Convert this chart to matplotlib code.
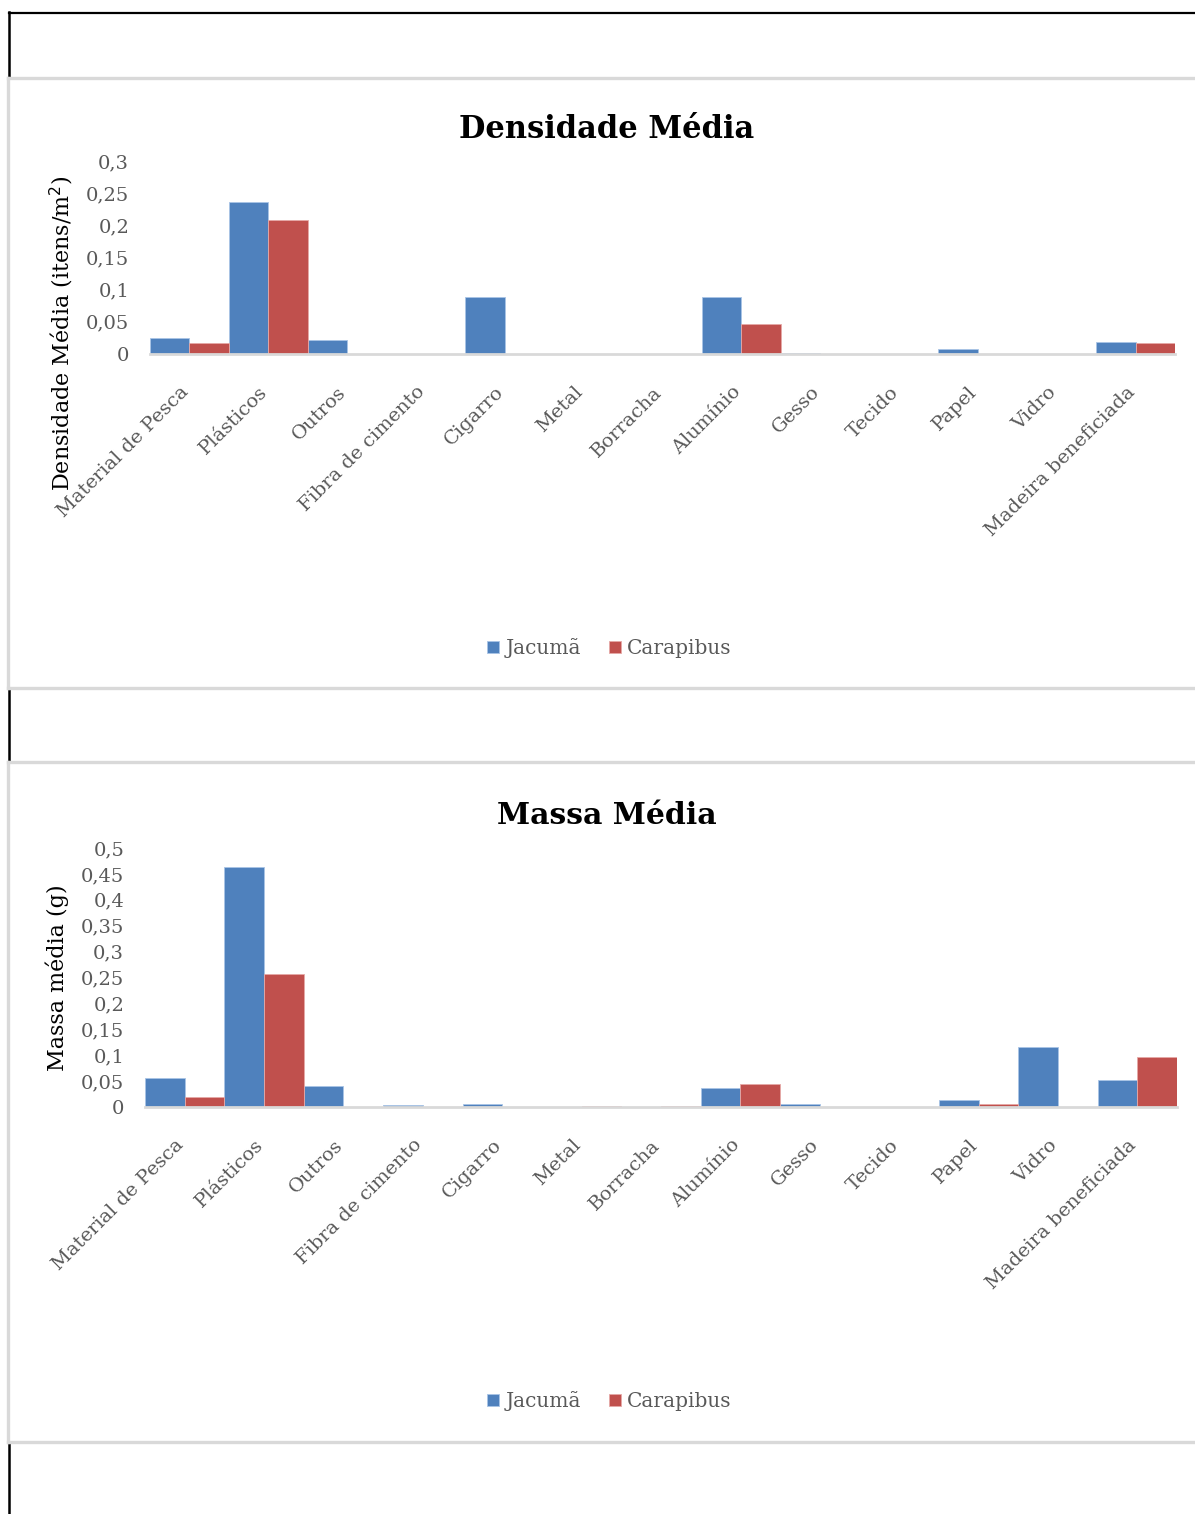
import matplotlib.pyplot as plt
import numpy as np

categorias = ["Material de Pesca", "Plásticos", "Outros", "Fibra de cimento",
              "Cigarro", "Metal", "Borracha", "Alumínio", "Gesso", "Tecido",
              "Papel", "Vidro", "Madeira beneficiada"]

# densidade média (itens/m²)
dens_jacuma    = [0.025, 0.237, 0.021, 0.0, 0.089, 0.0, 0.0, 0.088, 0.002, 0.0, 0.008, 0.0, 0.018]
dens_carapibus = [0.017, 0.209, 0.0, 0.0, 0.0, 0.0, 0.0, 0.047, 0.0, 0.0, 0.0, 0.0, 0.017]

# massa média (g)
massa_jacuma    = [0.056, 0.464, 0.041, 0.004, 0.005, 0.0, 0.0, 0.036, 0.005, 0.0, 0.013, 0.115, 0.053]
massa_carapibus = [0.019, 0.257, 0.0, 0.0, 0.0, 0.001, 0.001, 0.044, 0.0, 0.0, 0.006, 0.0, 0.096]

dens_ticks  = [0, 0.05, 0.1, 0.15, 0.2, 0.25, 0.3]
massa_ticks = [0, 0.05, 0.1, 0.15, 0.2, 0.25, 0.3, 0.35, 0.4, 0.45, 0.5]

AZUL = "#4F81BD"
VERMELHO = "#C0504D"
CINZA_TXT = "#595959"
CINZA_LINHA = "#D9D9D9"

plt.rcParams["font.family"] = ["DejaVu Serif"]

W, H = 1195, 1514
fig = plt.figure(figsize=(W / 100, H / 100), dpi=100)

# moldura de tabela em coordenadas de pixel
bg = fig.add_axes([0, 0, 1, 1], zorder=-1)
bg.set_xlim(0, W)
bg.set_ylim(H, 0)
bg.axis("off")
bg.plot([9, W], [12.5, 12.5], color="black", lw=1.6)
for y0, y1 in [(12, 77), (690, 760), (1443, H)]:
    bg.plot([9.5, 9.5], [y0, y1], color="black", lw=1.8)
for y0, y1 in [(78, 688), (762, 1442)]:
    bg.plot([8.5, W], [y0, y0], color=CINZA_LINHA, lw=2.4)
    bg.plot([8.5, W], [y1, y1], color=CINZA_LINHA, lw=2.4)
    bg.plot([8.5, 8.5], [y0, y1], color=CINZA_LINHA, lw=2.4)


def grafico(rect, jac, car, ticks, ylabel, label_xy, titulo, title_y, title_size, legend_y):
    ax = fig.add_axes(rect)
    x = np.arange(len(categorias))
    b1 = ax.bar(x - 0.25, jac, width=0.5, color=AZUL,
                edgecolor="#A9C4E6", linewidth=0.6)
    b2 = ax.bar(x + 0.25, car, width=0.5, color=VERMELHO,
                edgecolor="#E6A9A7", linewidth=0.6)
    ax.set_xlim(-0.5, len(categorias) - 0.5)
    ax.set_ylim(0, ticks[-1])
    ax.set_yticks(ticks)
    ax.set_yticklabels([f"{t:g}".replace(".", ",") for t in ticks],
                       fontsize=14, color=CINZA_TXT)
    ax.set_xticks(x)
    ax.set_xticklabels(categorias, rotation=45, ha="right", va="baseline",
                       rotation_mode="anchor", fontsize=14, color=CINZA_TXT)
    ax.tick_params(length=0)
    ax.tick_params(axis="y", pad=15)
    ax.tick_params(axis="x", pad=28)
    for s in ["top", "right", "left"]:
        ax.spines[s].set_visible(False)
    ax.spines["bottom"].set_color(CINZA_LINHA)
    ax.spines["bottom"].set_linewidth(2)
    ax.set_ylabel(ylabel, fontsize=16, color="black")
    ax.yaxis.set_label_coords(*label_xy)
    fig.text(0.508, title_y, titulo, ha="center", va="center",
             fontsize=title_size, fontweight="bold")
    fig.legend(handles=[b1, b2], labels=["Jacumã", "Carapibus"], loc="center",
               bbox_to_anchor=(0.51, legend_y), ncol=2, frameon=False,
               fontsize=14.5, labelcolor=CINZA_TXT, handlelength=0.6,
               handleheight=0.6, handletextpad=0.3, columnspacing=1.4)
    return ax


grafico([150 / W, 1 - 354 / H, 1025 / W, 193 / H], dens_jacuma, dens_carapibus,
        dens_ticks, "Densidade Média (itens/m$^2$)", (-0.072, 0.11),
        "Densidade Média", 1 - 130 / H, 22, 1 - 648 / H)
grafico([145 / W, 1 - 1107 / H, 1032 / W, 259 / H], massa_jacuma, massa_carapibus,
        massa_ticks, "Massa média (g)", (-0.074, 0.5),
        "Massa Média", 1 - 816 / H, 21.5, 1 - 1401 / H)

fig.savefig("out.png", dpi=100, facecolor="white")
